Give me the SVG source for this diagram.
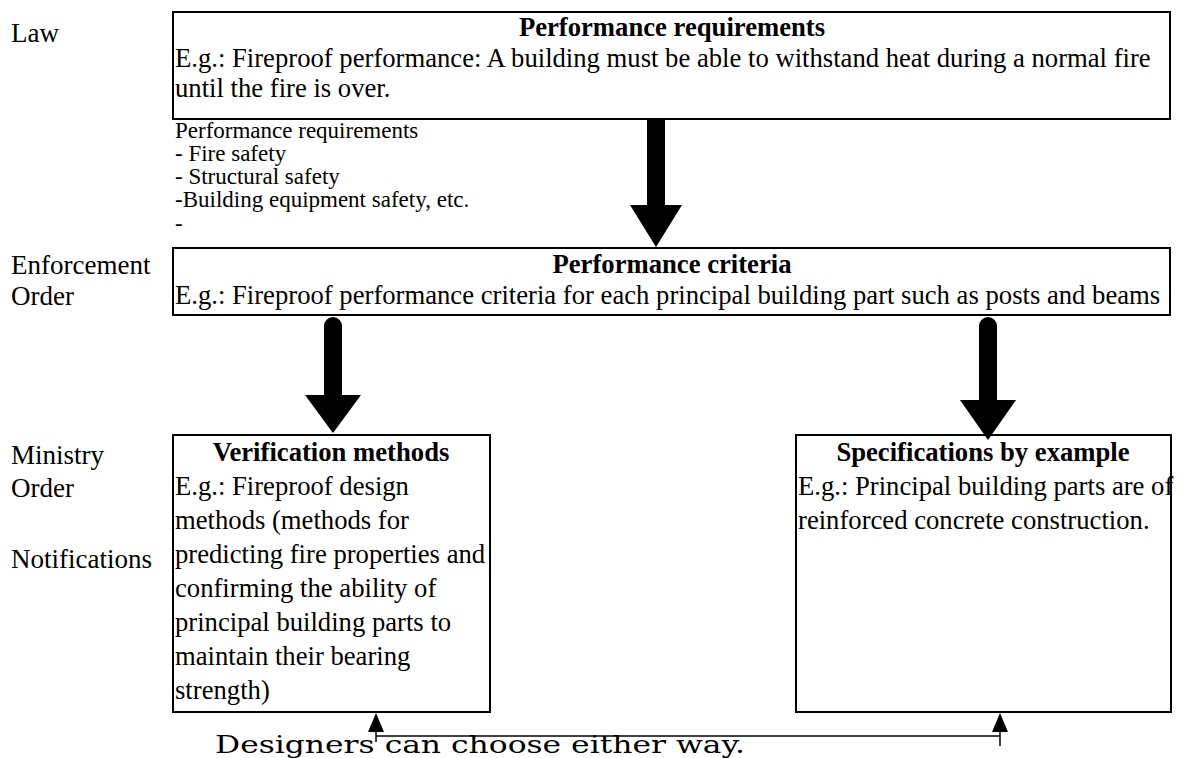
<svg xmlns="http://www.w3.org/2000/svg" width="1182" height="758" viewBox="0 0 1182 758">
<style>
.t{font-family:"Liberation Serif","Times New Roman",serif;font-size:26.67px;fill:#000}
.l{font-family:"Liberation Serif","Times New Roman",serif;font-size:27px;fill:#000}
.b{font-weight:bold;text-anchor:middle}
.s{font-family:"Liberation Serif","Times New Roman",serif;font-size:23px;fill:#000}
.box{fill:#fff;stroke:#000;stroke-width:2}
.shaft{stroke:#000;stroke-width:18;fill:none}
.thin{stroke:#000;stroke-width:1.5;fill:none}
.d{font-family:"DejaVu Serif",serif;font-size:24px;fill:#000}
</style>
<g id="labels">
<text class="l" x="11" y="42">Law</text>
<text class="l" x="11" y="274">Enforcement</text>
<text class="l" x="11" y="305">Order</text>
<text class="l" x="11" y="464">Ministry</text>
<text class="l" x="11" y="497">Order</text>
<text class="l" x="11" y="568">Notifications</text>
</g>
<g id="node-requirements">
<rect class="box" x="173" y="12" width="997" height="107"/>
<text class="t b" x="672" y="36">Performance requirements</text>
<text class="t" x="175" y="67">E.g.: Fireproof performance: A building must be able to withstand heat during a normal fire</text>
<text class="t" x="175" y="97">until the fire is over.</text>
</g>
<g id="note">
<text class="s" x="175" y="138">Performance requirements</text>
<text class="s" x="175" y="161">- Fire safety</text>
<text class="s" x="175" y="184">- Structural safety</text>
<text class="s" x="175" y="207">-Building equipment safety, etc.</text>
<text class="s" x="175" y="231">-</text>
</g>
<g id="node-criteria">
<rect class="box" x="173" y="248" width="997" height="67"/>
<text class="t b" x="672" y="273">Performance criteria</text>
<text class="t" x="175" y="304">E.g.: Fireproof performance criteria for each principal building part such as posts and beams</text>
</g>
<g id="node-verification">
<rect class="box" x="173" y="435" width="317" height="277"/>
<text class="t b" x="331" y="461">Verification methods</text>
<text class="t" x="175" y="495">E.g.: Fireproof design</text>
<text class="t" x="175" y="529">methods (methods for</text>
<text class="t" x="175" y="563">predicting fire properties and</text>
<text class="t" x="175" y="597">confirming the ability of</text>
<text class="t" x="175" y="631">principal building parts to</text>
<text class="t" x="175" y="665">maintain their bearing</text>
<text class="t" x="175" y="699">strength)</text>
</g>
<g id="node-specifications">
<rect class="box" x="796" y="435" width="375" height="277"/>
<text class="t b" x="983" y="461">Specifications by example</text>
<text class="t" x="798" y="495">E.g.: Principal building parts are of</text>
<text class="t" x="798" y="529">reinforced concrete construction.</text>
</g>
<g id="connectors">
<line class="shaft" x1="656" y1="120" x2="656" y2="206"/>
<polygon points="630,205 682,205 656,247" fill="#000"/>
<line class="shaft" x1="333" y1="326" x2="333" y2="396" stroke-linecap="round"/>
<polygon points="305,395 361,395 333,433" fill="#000"/>
<line class="shaft" x1="988" y1="326" x2="988" y2="401" stroke-linecap="round"/>
<polygon points="960,400 1016,400 988,440" fill="#000"/>
<polygon points="368,732 384,732 376,713" fill="#000"/>
<polygon points="992,732 1008,732 1000,713" fill="#000"/>
<line class="thin" x1="376" y1="742" x2="376" y2="731"/>
<line class="thin" x1="1000" y1="746" x2="1000" y2="731"/>
<line class="thin" x1="376" y1="736" x2="1000" y2="736"/>
</g>
<g id="caption">
<text class="d" x="215" y="753" textLength="530" lengthAdjust="spacingAndGlyphs">Designers can choose either way.</text>
</g>
</svg>
